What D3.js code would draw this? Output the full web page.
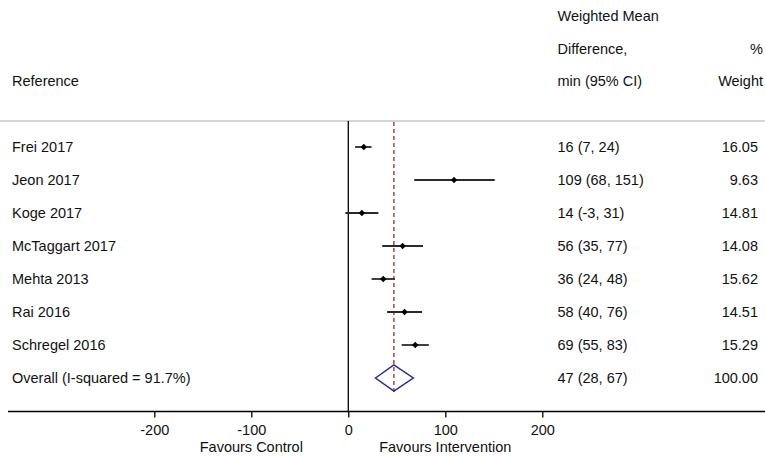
<!DOCTYPE html>
<html>
<head>
<meta charset="utf-8">
<script src="https://cdn.jsdelivr.net/npm/d3@7"></script>
<style>
  body { margin: 0; background: #fff; }
  svg text { font-family: "Liberation Sans", Arial, sans-serif; font-size: 14.5px; fill: #111; }
</style>
</head>
<body>
<div id="forest"></div>
<script>
// study rows
const studies = ['Frei 2017', 'Jeon 2017', 'Koge 2017', 'McTaggart 2017', 'Mehta 2013', 'Rai 2016', 'Schregel 2016'];
const estimates = [16, 109, 14, 56, 36, 58, 69];
const lowerCI = [7, 68, -3, 35, 24, 40, 55];
const upperCI = [24, 151, 31, 77, 48, 76, 83];
const weights = ['16.05', '9.63', '14.81', '14.08', '15.62', '14.51', '15.29'];

// pooled estimate
const overallLabel = 'Overall (I-squared = 91.7%)';
const overall = { est: 47, lo: 28, hi: 67, weight: '100.00' };

const xTicks = [-200, -100, 0, 100, 200];
const favourLabels = [[-100, 'Favours Control'], [100, 'Favours Intervention']];

const width = 765, height = 457;
const svg = d3.select('#forest').append('svg')
    .attr('width', width)
    .attr('height', height);

const x = d3.scaleLinear().domain([0, 200]).range([348.3, 542.3]);
const rows = studies.concat([overallLabel]);
const y = d3.scalePoint().domain(rows).range([147, 378]);

const plotTop = 121, plotBottom = 411.5;

// header
const head = svg.append('g');
head.append('text').attr('x', 12).attr('y', 86).text('Reference');
head.append('text').attr('x', 557.5).attr('y', 20.5).text('Weighted Mean');
head.append('text').attr('x', 557.5).attr('y', 53.5).text('Difference,');
head.append('text').attr('x', 557.5).attr('y', 86).text('min (95% CI)');
head.append('text').attr('x', 763).attr('y', 53.5).attr('text-anchor', 'end').text('%');
head.append('text').attr('x', 763).attr('y', 86).attr('text-anchor', 'end').text('Weight');

svg.append('line')
    .attr('x1', 0).attr('x2', width)
    .attr('y1', plotTop).attr('y2', plotTop)
    .attr('stroke', '#d4d4d4').attr('stroke-width', 2);

// line of no effect
svg.append('line')
    .attr('x1', x(0)).attr('x2', x(0))
    .attr('y1', plotTop).attr('y2', plotBottom)
    .attr('stroke', '#000').attr('stroke-width', 1.3);

// pooled estimate reference line
svg.append('line')
    .attr('x1', x(overall.est)).attr('x2', x(overall.est))
    .attr('y1', plotTop + 1).attr('y2', y(overallLabel) + 14)
    .attr('stroke', '#a3242c').attr('stroke-width', 1.3)
    .attr('stroke-dasharray', '4,3');

const data = studies.map((s, i) => ({ s, est: estimates[i], lo: lowerCI[i], hi: upperCI[i], w: weights[i] }));

const chart = svg.append('g');
chart.selectAll('line.ci')
    .data(data)
    .join('line')
    .classed('ci', true)
    .attr('x1', d => x(d.lo)).attr('x2', d => x(d.hi))
    .attr('y1', d => y(d.s)).attr('y2', d => y(d.s))
    .attr('stroke', '#2a2a2a').attr('stroke-width', 1.8);

chart.selectAll('path.pt')
    .data(data)
    .join('path')
    .classed('pt', true)
    .attr('d', d3.symbol(d3.symbolDiamond2, 26))
    .attr('transform', d => `translate(${x(d.est)},${y(d.s)})`)
    .attr('fill', '#000');

// overall diamond
const oy = y(overallLabel);
svg.append('path')
    .attr('d', `M${x(overall.lo)},${oy}L${x(overall.est)},${oy - 13}L${x(overall.hi)},${oy}L${x(overall.est)},${oy + 13}Z`)
    .attr('fill', 'none')
    .attr('stroke', '#2b2b86').attr('stroke-width', 1.5);

// text columns
const rowsData = data.map(d => ({ name: d.s, ci: `${d.est} (${d.lo}, ${d.hi})`, w: d.w }))
    .concat([{ name: overallLabel, ci: `${overall.est} (${overall.lo}, ${overall.hi})`, w: overall.weight }]);

const txt = svg.append('g');
txt.selectAll('text.name').data(rowsData).join('text').classed('name', true)
    .attr('x', 12).attr('y', d => y(d.name) + 5).text(d => d.name);
txt.selectAll('text.ci').data(rowsData).join('text').classed('ci', true)
    .attr('x', 557.5).attr('y', d => y(d.name) + 5).text(d => d.ci);
txt.selectAll('text.w').data(rowsData).join('text').classed('w', true)
    .attr('x', 758).attr('y', d => y(d.name) + 5).attr('text-anchor', 'end').text(d => d.w);

// bottom axis
svg.append('line')
    .attr('x1', 8).attr('x2', width)
    .attr('y1', plotBottom).attr('y2', plotBottom)
    .attr('stroke', '#000').attr('stroke-width', 1.3);

const xAxis = svg.append('g')
    .attr('transform', `translate(0,${plotBottom})`)
    .call(d3.axisBottom(x).tickValues(xTicks).tickSize(6).tickPadding(7).tickFormat(d => String(d)));
xAxis.select('.domain').remove();
xAxis.selectAll('line').attr('stroke', '#000').attr('stroke-width', 1.3);
xAxis.selectAll('text').style('font-size', '14.5px').attr('fill', '#111')
    .style('font-family', '"Liberation Sans", Arial, sans-serif');

svg.selectAll('text.favour')
    .data(favourLabels)
    .join('text')
    .classed('favour', true)
    .attr('x', d => x(d[0]))
    .attr('y', 452)
    .attr('text-anchor', 'middle')
    .text(d => d[1]);
</script>
</body>
</html>
